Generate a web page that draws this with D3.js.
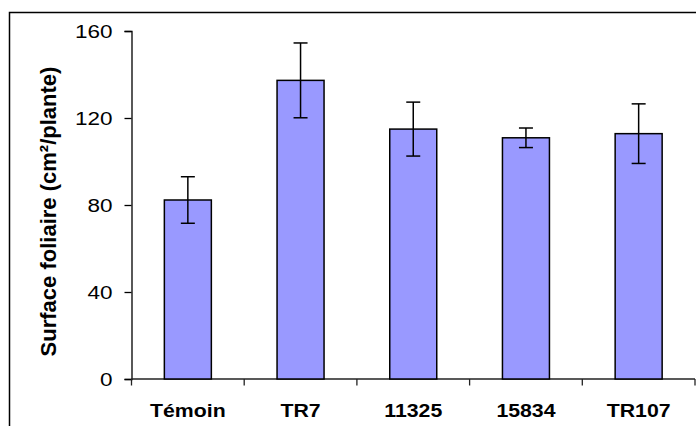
<!DOCTYPE html>
<html><head><meta charset="utf-8">
<script src="https://cdn.jsdelivr.net/npm/d3@7"></script>
<style>html,body{margin:0;padding:0;background:#fff;}svg{display:block;}</style>
</head><body>
<svg id="c" width="696" height="426"></svg>
<script>
const categories = ["Témoin", "TR7", "11325", "15834", "TR107"];
const values = [82.3, 137.3, 114.9, 110.9, 112.8];
const errors = [10.7, 17.2, 12.4, 4.5, 13.7];
const yTicks = [0, 40, 80, 120, 160];
const yTitle = "Surface foliaire (cm²/plante)";

(function () {
const svg = d3.select("#c");
const pLeft = 131.5, pRight = 695, pTop = 31, pBottom = 379;

// outer frame (cut off at right and bottom)
svg.append("rect").attr("x", 9.5).attr("y", 12.5).attr("width", 720).attr("height", 440)
  .attr("fill", "none").attr("stroke", "#000").attr("stroke-width", 1.5);

const x = d3.scaleBand().domain(categories).range([pLeft, pRight]).padding(0);
const y = d3.scaleLinear().domain([0, 160]).range([pBottom, pTop]);

// y axis
const yAxis = svg.append("g").attr("transform", `translate(${pLeft},0)`)
  .call(d3.axisLeft(y).tickValues(yTicks).tickSize(7).tickPadding(12).tickFormat(d3.format("d")));
yAxis.select(".domain").attr("stroke", "#000").attr("stroke-width", 1.3);
yAxis.selectAll(".tick line").attr("stroke", "#000").attr("stroke-width", 1.3);
yAxis.selectAll(".tick text").attr("font-family", "Liberation Sans, Arial, sans-serif")
  .attr("font-size", 18).attr("fill", "#000").attr("dy", "0.36em")
  .attr("text-anchor", "end").attr("x", 0)
  .attr("transform", "translate(-19,0) scale(1.25,1)");

// x axis
svg.append("line").attr("x1", pLeft).attr("x2", pRight).attr("y1", pBottom).attr("y2", pBottom)
  .attr("stroke", "#222").attr("stroke-width", 1.3);
const tickPos = categories.map(c => x(c)).concat([x.range()[1]]);
svg.selectAll(".xt").data(tickPos).enter().append("line")
  .attr("x1", d => d).attr("x2", d => d).attr("y1", pBottom).attr("y2", pBottom + 6.5)
  .attr("stroke", "#222").attr("stroke-width", 1.3);

svg.selectAll(".xl").data(categories).enter().append("text")
  .attr("transform", d => `translate(${x(d) + x.bandwidth()/2},417) scale(1.12,1)`)
  .attr("text-anchor", "middle")
  .attr("font-family", "Liberation Sans, Arial, sans-serif")
  .attr("font-weight", "bold").attr("font-size", 19).attr("fill", "#000")
  .text(d => d);

// bars
const bw = x.bandwidth() * 0.417;
svg.selectAll(".bar").data(categories).enter().append("rect")
  .attr("x", d => x(d) + (x.bandwidth() - bw) / 2)
  .attr("y", (d, i) => y(values[i]))
  .attr("width", bw)
  .attr("height", (d, i) => y(0) - y(values[i]))
  .attr("fill", "#9999FF").attr("stroke", "#000").attr("stroke-width", 1.5);

// error bars
const capW = 14;
const cx = d => x(d) + x.bandwidth() / 2;
const eb = svg.selectAll(".eb").data(categories).enter().append("g")
  .attr("stroke", "#000").attr("stroke-width", 1.5);
eb.append("line")
  .attr("x1", cx).attr("x2", cx)
  .attr("y1", (d, i) => y(values[i] + errors[i])).attr("y2", (d, i) => y(values[i] - errors[i]));
eb.append("line")
  .attr("x1", d => cx(d) - capW/2).attr("x2", d => cx(d) + capW/2)
  .attr("y1", (d, i) => y(values[i] + errors[i])).attr("y2", (d, i) => y(values[i] + errors[i]));
eb.append("line")
  .attr("x1", d => cx(d) - capW/2).attr("x2", d => cx(d) + capW/2)
  .attr("y1", (d, i) => y(values[i] - errors[i])).attr("y2", (d, i) => y(values[i] - errors[i]));

// y title
svg.append("text")
  .attr("transform", "translate(55.5,211.5) rotate(-90)")
  .attr("text-anchor", "middle")
  .attr("font-family", "Liberation Sans, Arial, sans-serif")
  .attr("font-weight", "bold").attr("font-size", 22).attr("fill", "#000")
  .text(yTitle);
})();
</script>
</body></html>
